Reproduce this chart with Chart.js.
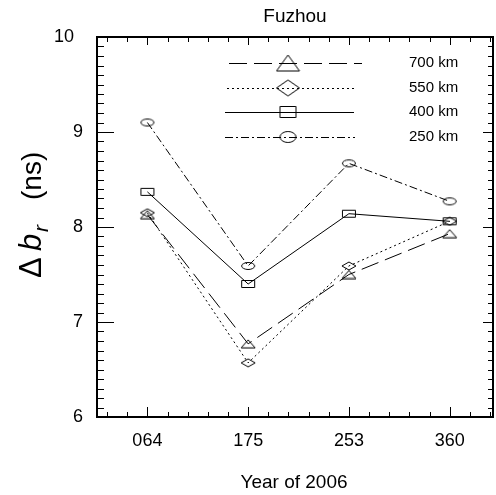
<!DOCTYPE html>
<html>
<head>
<meta charset="utf-8">
<script src="https://cdn.jsdelivr.net/npm/chart.js@4.4.1/dist/chart.umd.min.js"></script>
<style>
html,body{margin:0;padding:0;background:#fff;}
canvas{display:block;}
</style>
</head>
<body>
<canvas id="c" width="496" height="495"></canvas>
<script>
// ---- data ----
const categories = ['064', '175', '253', '360'];
const yTickValues = [6, 7, 8, 9, 10];
const seriesLabels = ['700 km', '550 km', '400 km', '250 km'];
const values700 = [8.13, 6.77, 7.50, 7.93];
const values550 = [8.15, 6.57, 7.59, 8.06];
const values400 = [8.37, 7.40, 8.14, 8.06];
const values250 = [9.10, 7.59, 8.67, 8.27];
const chartTitle = 'Fuzhou';
const xTitle = 'Year of 2006';

// ---- marker images ----
function marker(type, w, h) {
  const c = document.createElement('canvas');
  c.width = w + 2; c.height = h + 2;
  const g = c.getContext('2d');
  g.strokeStyle = '#000'; g.lineWidth = 1;
  const x0 = 1, y0 = 1, cx = (w + 2) / 2, cy = (h + 2) / 2;
  g.beginPath();
  if (type === 'tri') {
    g.moveTo(cx, y0); g.lineTo(x0 + w, y0 + h); g.lineTo(x0, y0 + h); g.closePath();
  } else if (type === 'dia') {
    g.moveTo(cx, y0); g.lineTo(x0 + w, cy); g.lineTo(cx, y0 + h); g.lineTo(x0, cy); g.closePath();
  } else if (type === 'sq') {
    g.rect(x0 + 0.5, y0 + 0.5, w - 1, h - 1);
  } else {
    g.ellipse(cx, cy, w / 2 - 0.5, h / 2 - 0.5, 0, 0, Math.PI * 2);
  }
  g.stroke();
  return c;
}
const plotMarkers = [marker('tri', 14, 8), marker('dia', 14, 8), marker('sq', 14, 8), marker('ell', 14, 8)];
const legendMarkers = [marker('tri', 23, 16), marker('dia', 23, 16), marker('sq', 17, 12), marker('ell', 17, 12)];
const dashes = [[18, 7], [2, 3], [], [8, 3, 2, 3]];

const allValues = [values700, values550, values400, values250];
const datasets = allValues.map((vals, i) => ({
  label: seriesLabels[i],
  data: vals.map((v, k) => ({ x: k, y: v })),
  borderColor: '#000',
  borderWidth: 1,
  borderDash: dashes[i],
  pointStyle: plotMarkers[i],
  pointRadius: 7,
  fill: false,
  tension: 0
}));

const decor = {
  id: 'decor',
  afterDraw(chart) {
    const ctx = chart.ctx;
    const xs = chart.scales.x, ys = chart.scales.y;
    const a = chart.chartArea;
    ctx.save();
    ctx.strokeStyle = '#000';
    ctx.fillStyle = '#000';
    // ticks
    ctx.lineWidth = 1;
    ctx.beginPath();
    for (let i = -4; i <= 34; i += 2) {
      const v = i / 10;
      const px = Math.round(xs.getPixelForValue(v)) + 0.5;
      const major = (i % 10 === 0);
      const lb = major ? 10 : 5, lt = major ? 8 : 5;
      ctx.moveTo(px, a.bottom); ctx.lineTo(px, a.bottom - lb);
      ctx.moveTo(px, a.top); ctx.lineTo(px, a.top + lt);
    }
    for (let i = 61; i < 100; i++) {
      const v = i / 10;
      const py = Math.round(ys.getPixelForValue(v)) + 0.5;
      const major = (i % 10 === 0);
      const ll = major ? 17 : 7, lr = major ? 10 : 5;
      ctx.moveTo(a.left, py); ctx.lineTo(a.left + ll, py);
      ctx.moveTo(a.right, py); ctx.lineTo(a.right - lr, py);
    }
    ctx.stroke();
    // frame
    ctx.lineWidth = 2;
    ctx.strokeRect(a.left, a.top, a.right - a.left, a.bottom - a.top);

    // tick labels
    ctx.font = '18px "Liberation Sans", Arial, sans-serif';
    ctx.textBaseline = 'middle';
    ctx.textAlign = 'center';
    categories.forEach((c, k) => {
      ctx.fillText(c, xs.getPixelForValue(k), 441);
    });
    ctx.textAlign = 'right';
    yTickValues.forEach(v => {
      const right = v >= 10 ? 74 : 83;
      ctx.fillText(String(v), right, ys.getPixelForValue(v));
    });

    // titles
    ctx.textAlign = 'center';
    ctx.font = '19px "Liberation Sans", Arial, sans-serif';
    ctx.fillText(chartTitle, (a.left + a.right) / 2, 17);
    ctx.fillText(xTitle, 294, 483);

    // y title
    ctx.save();
    ctx.translate(41, 278);
    ctx.rotate(-Math.PI / 2);
    ctx.textAlign = 'left';
    ctx.textBaseline = 'alphabetic';
    ctx.font = '31px "Liberation Sans", Arial, sans-serif';
    ctx.fillText('\u0394', 0, 0);
    ctx.font = 'italic 31px "Liberation Sans", Arial, sans-serif';
    ctx.fillText('b', 27, 0);
    ctx.font = 'italic 21px "Liberation Sans", Arial, sans-serif';
    ctx.fillText('r', 46, 7);
    ctx.font = '28px "Liberation Sans", Arial, sans-serif';
    ctx.fillText('(ns)', 78, 0);
    ctx.restore();

    // legend
    const rowY = [63, 88, 112, 137];
    const lineX = [[229, 362], [227, 354], [225, 354], [225, 355]];
    ctx.font = '15px "Liberation Sans", Arial, sans-serif';
    ctx.textAlign = 'left';
    ctx.textBaseline = 'middle';
    chart.data.datasets.forEach((ds, i) => {
      const y = rowY[i] + 0.5;
      ctx.lineWidth = 1;
      ctx.setLineDash(ds.borderDash);
      ctx.beginPath();
      ctx.moveTo(lineX[i][0], y); ctx.lineTo(lineX[i][1], y);
      ctx.stroke();
      ctx.setLineDash([]);
      const m = legendMarkers[i];
      ctx.drawImage(m, 288 - m.width / 2, rowY[i] - m.height / 2);
      ctx.fillText(ds.label, 409, rowY[i]);
    });
    ctx.restore();
  }
};

new Chart(document.getElementById('c'), {
  type: 'line',
  data: { datasets },
  options: {
    responsive: false,
    animation: false,
    devicePixelRatio: 1,
    layout: { autoPadding: false, padding: { top: 37, right: 3, left: 0, bottom: 0 } },
    plugins: { legend: { display: false }, tooltip: { enabled: false }, title: { display: false } },
    scales: {
      x: {
        type: 'linear', min: -0.5, max: 3.43,
        afterBuildTicks: s => { s.ticks = categories.map((_, k) => ({ value: k })); },
        afterFit: s => { s.height = 78; },
        grid: { display: false }, border: { display: false },
        ticks: { display: false }
      },
      y: {
        type: 'linear', min: 6, max: 10,
        afterBuildTicks: s => { s.ticks = yTickValues.map(v => ({ value: v })); },
        afterFit: s => { s.width = 97; },
        grid: { display: false }, border: { display: false },
        ticks: { display: false }
      }
    }
  },
  plugins: [decor]
});
</script>
</body>
</html>
